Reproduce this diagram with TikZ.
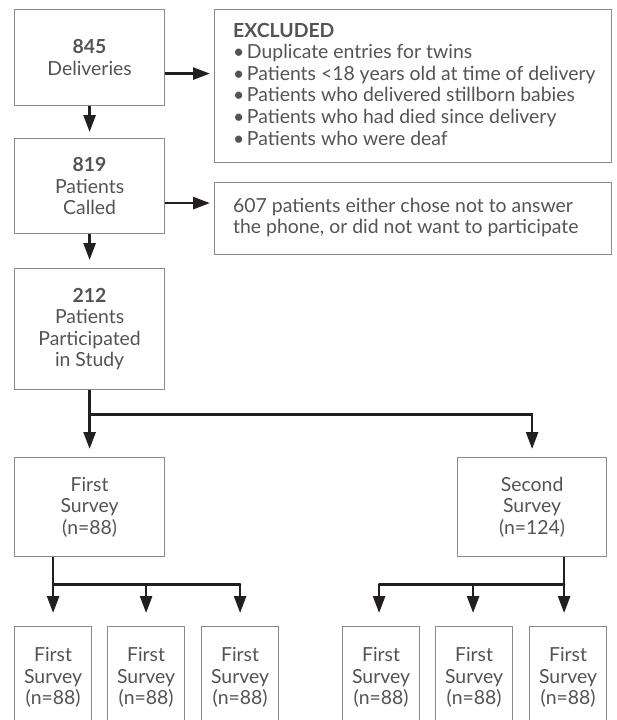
\documentclass[tikz,border=0pt]{standalone}
\usepackage{fontspec}
\setmainfont{Lato}
\usetikzlibrary{arrows.meta,calc}
\definecolor{txt}{HTML}{545456}
\definecolor{brd}{HTML}{8A8A8A}
\definecolor{arr}{HTML}{231F20}
\newcommand{\bul}{•\hspace{2.5pt}}
\begin{document}
\begin{tikzpicture}[x=1pt,y=-1pt,
  box/.style={draw=brd, line width=1.2pt, fill=white, text=txt, align=center,
    font=\fontsize{19.4}{21.6}\selectfont, inner sep=0pt, anchor=north west},
  ltext/.style={text=txt, align=left, font=\fontsize{19.4}{21.6}\selectfont, inner sep=0pt, anchor=west},
  flow/.style={draw=arr, line width=2.6pt, -{Triangle[width=12pt,length=17pt]}},
  bar/.style={draw=arr, line width=2.6pt, line cap=round}]
\useasboundingbox (0,0) rectangle (616,720);

\node[box, minimum width=150pt, minimum height=96pt] (A) at (14,9) {\textbf{845}\\Deliveries};
\node[box, minimum width=150pt, minimum height=95pt] (B) at (14,138) {\textbf{819}\\Patients\\Called};
\node[box, minimum width=150pt, minimum height=121pt] (C) at (14,268) {\textbf{212}\\Patients\\Participated\\in Study};

\node[box, minimum width=397pt, minimum height=153pt] (X) at (214,9) {};
\node[ltext] (Xt) at ($(X.west)+(19,-2)$) {\textbf{EXCLUDED}\\
\bul Duplicate entries for twins\\
\bul Patients <18 years old at time of delivery\\
\bul Patients who delivered stillborn babies\\
\bul Patients who had died since delivery\\
\bul Patients who were deaf};
\node[box, minimum width=397pt, minimum height=72pt] (N) at (214,182) {};
\node[ltext] (Nt) at ($(N.west)+(19,-1)$) {607 patients either chose not to answer\\the phone, or did not want to participate};

\node[box, minimum width=150pt, minimum height=99pt] (D) at (14,457) {First\\Survey\\(n=88)};
\node[box, minimum width=149pt, minimum height=99pt] (E) at (457,457) {Second\\Survey\\(n=124)};

\node[box, minimum width=77pt, minimum height=102pt] (D1) at (14,626) {First\\Survey\\(n=88)};
\node[box, minimum width=77pt, minimum height=102pt] (D2) at (107,626) {First\\Survey\\(n=88)};
\node[box, minimum width=77pt, minimum height=102pt] (D3) at (201,626) {First\\Survey\\(n=88)};
\node[box, minimum width=77pt, minimum height=102pt] (E1) at (342,626) {First\\Survey\\(n=88)};
\node[box, minimum width=77pt, minimum height=102pt] (E2) at (435,626) {First\\Survey\\(n=88)};
\node[box, minimum width=77pt, minimum height=102pt] (E3) at (529,626) {First\\Survey\\(n=88)};

% main column
\draw[flow, shorten >=6pt] (A.south) -- (B.north);
\draw[flow, shorten >=8pt] (B.south) -- (C.north);
\draw[flow, shorten >=4pt] ($(A.east)+(0,16)$) -- ($(X.west |- A.east)+(0,16)$);
\draw[flow, shorten >=4pt] ($(B.east)+(0,17)$) -- ($(N.west |- B.east)+(0,17)$);

% split to surveys
\coordinate (hC) at ($(C.south)+(0,24)$);
\draw[flow, shorten >=8pt] (C.south) -- (D.north);
\draw[flow, shorten >=8pt] (hC) -| (E.north);

% first survey branches
\coordinate (hL) at ($(D.south)+(0,27)$);
\draw[flow, shorten >=13pt] (D1.north |- D.south) -- (D1.north);
\draw[bar] (D1.north |- hL) -- (D3.north |- hL);
\draw[flow, shorten >=13pt] (D2.north |- hL) -- (D2.north);
\draw[flow, shorten >=13pt] (D3.north |- hL) -- (D3.north);

% second survey branches
\coordinate (hR) at ($(E.south)+(0,27)$);
\draw[flow, shorten >=13pt] ($(E3.north |- E.south)+(-4,0)$) -- ($(E3.north)+(-4,0)$);
\draw[bar] ($(E1.north |- hR)+(-2,0)$) -- ($(E3.north |- hR)+(-4,0)$);
\draw[flow, shorten >=13pt] ($(E1.north |- hR)+(-2,0)$) -- ($(E1.north)+(-2,0)$);
\draw[flow, shorten >=13pt] ($(E2.north |- hR)+(-1,0)$) -- ($(E2.north)+(-1,0)$);
\end{tikzpicture}
\end{document}
